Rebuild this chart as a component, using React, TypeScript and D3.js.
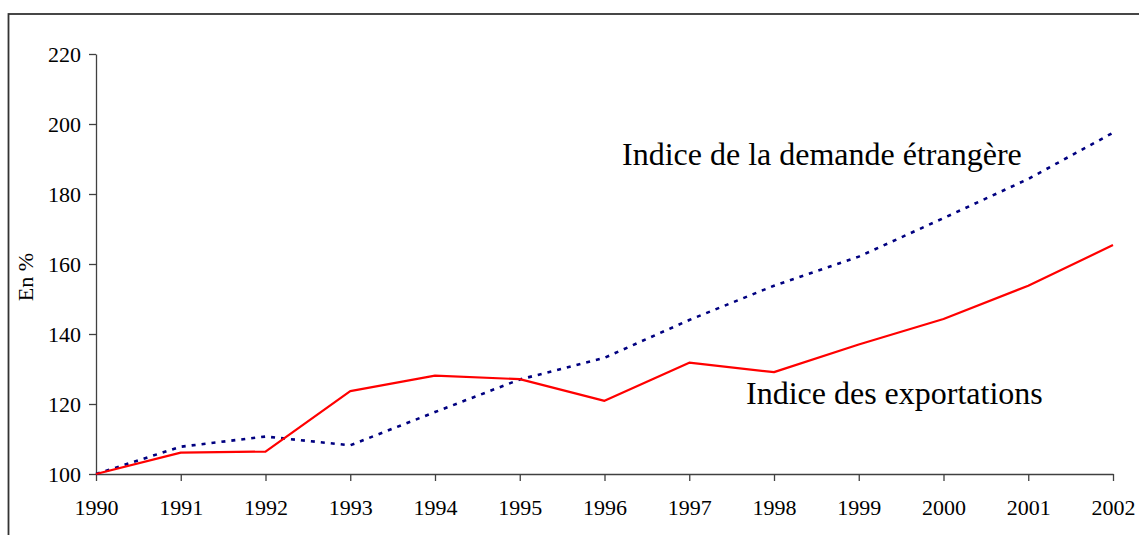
import React, { useEffect, useRef } from 'react';
import * as d3 from 'd3';

const years = [1990, 1991, 1992, 1993, 1994, 1995, 1996, 1997, 1998, 1999, 2000, 2001, 2002];
const exportations = [100, 106.1, 106.4, 123.7, 128.1, 127.1, 120.9, 131.8, 129.1, 137.0, 144.3, 153.8, 165.4];
const demandeEtrangere = [100, 107.8, 110.7, 108.2, 117.7, 127.0, 133.2, 144.0, 153.8, 162.1, 173.1, 184.3, 197.5];
const yTicks = [100, 120, 140, 160, 180, 200, 220];

const FONT = '"Liberation Serif", "Times New Roman", serif';

export default function App() {
  const ref = useRef<SVGSVGElement | null>(null);

  useEffect(() => {
    const W = 1139,
      H = 535;
    const left = 96,
      right = 1113,
      top = 54,
      bottom = 474;

    const svg = d3.select(ref.current);
    svg.selectAll('*').remove();

    // outer frame (cut off at the right and bottom, like the scan)
    svg
      .append('rect')
      .attr('x', 8.5)
      .attr('y', 14)
      .attr('width', W + 50)
      .attr('height', H + 50)
      .attr('fill', 'none')
      .attr('stroke', '#333')
      .attr('stroke-width', 1.8);

    const x = d3.scaleLinear().domain([1990, 2002]).range([left, right]);
    const y = d3.scaleLinear().domain([100, 220]).range([bottom, top]);

    const xAxis = d3
      .axisBottom(x)
      .tickValues(years)
      .tickFormat((d: any) => String(d))
      .tickSizeInner(7)
      .tickSizeOuter(0);

    const yAxis = d3
      .axisLeft(y)
      .tickValues(yTicks)
      .tickFormat((d: any) => String(d))
      .tickSizeInner(7)
      .tickSizeOuter(0)
      .tickPadding(8);

    const gx = svg
      .append('g')
      .attr('transform', 'translate(0,' + bottom + ')')
      .call(xAxis);
    gx.selectAll('text').attr('y', 41).attr('dy', 0);

    const gy = svg
      .append('g')
      .attr('transform', 'translate(' + left + ',0)')
      .call(yAxis);

    [gx, gy].forEach(g => {
      g.select('.domain').attr('stroke', '#404040').attr('stroke-width', 1.3);
      g.selectAll('.tick line').attr('stroke', '#404040').attr('stroke-width', 1.3);
      g.selectAll('text')
        .attr('fill', '#000')
        .style('font-family', FONT)
        .style('font-size', '22px');
    });

    // y axis title
    svg
      .append('text')
      .attr('transform', 'translate(33,277) rotate(-90)')
      .attr('text-anchor', 'middle')
      .style('font-family', FONT)
      .style('font-size', '22px')
      .text('En %');

    const line = d3
      .line<number>()
      .x((d, i) => x(years[i]))
      .y(d => y(d));

    svg
      .append('path')
      .datum(demandeEtrangere)
      .attr('d', line)
      .attr('fill', 'none')
      .attr('stroke', '#000080')
      .attr('stroke-width', 2.6)
      .attr('stroke-dasharray', '4 6');

    svg
      .append('path')
      .datum(exportations)
      .attr('d', line)
      .attr('fill', 'none')
      .attr('stroke', '#ff0000')
      .attr('stroke-width', 2.2)
      .attr('stroke-linejoin', 'round');

    // series labels
    svg
      .append('text')
      .attr('x', 622)
      .attr('y', 165)
      .style('font-family', FONT)
      .style('font-size', '32px')
      .text('Indice de la demande étrangère');

    svg
      .append('text')
      .attr('x', 746)
      .attr('y', 404)
      .style('font-family', FONT)
      .style('font-size', '32px')
      .text('Indice des exportations');
  }, []);

  return (
    <div>
      <svg
        ref={ref}
        width={1139}
        height={535}
        style={{ position: 'absolute', left: 0, top: 0, background: '#fff' }}
      />
    </div>
  );
}
